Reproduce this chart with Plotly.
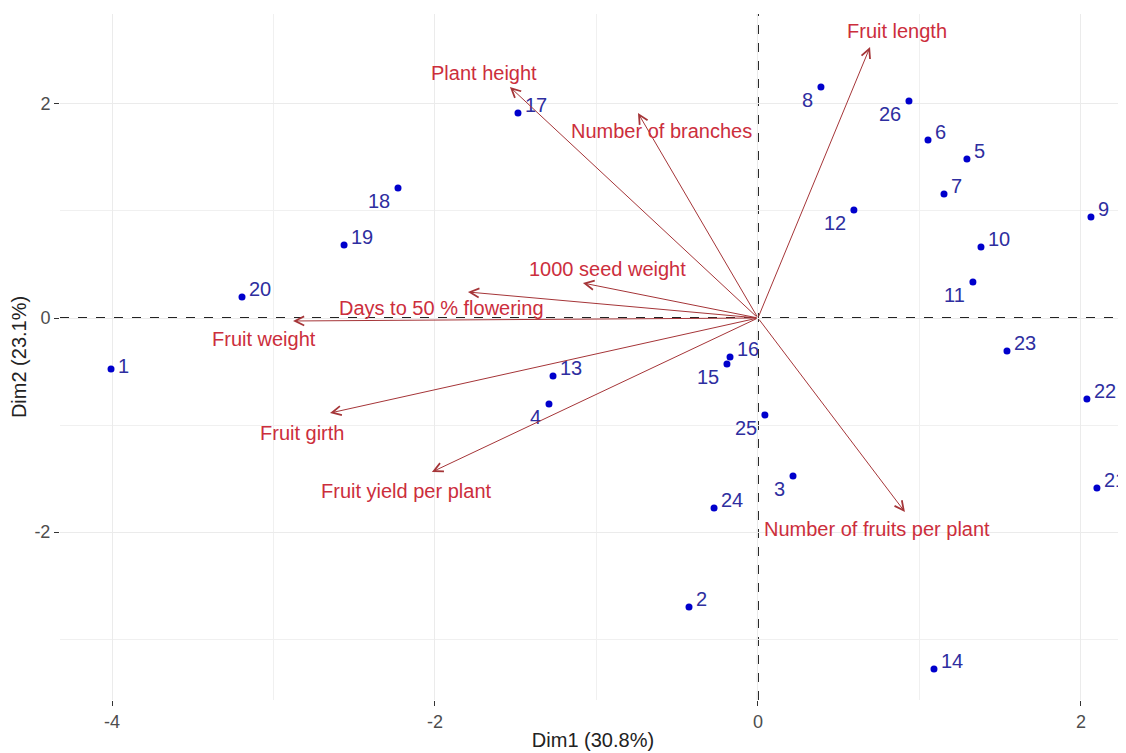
import plotly.graph_objects as go

# Individuals (PCA scores)
ind_labels = ["1", "2", "3", "4", "5", "6", "7", "8", "9", "10", "11", "12", "13",
              "14", "15", "16", "17", "18", "19", "20", "21", "22", "23", "24", "25", "26"]
ind_dim1 = [-4.006, -0.427, 0.217, -1.294, 1.294, 1.053, 1.152, 0.390, 2.062, 1.381, 1.331, 0.594, -1.269,
            1.090, -0.192, -0.173, -1.486, -2.229, -2.563, -3.195, 2.099, 2.037, 1.542, -0.272, 0.043, 0.935]
ind_dim2 = [-0.477, -2.700, -1.477, -0.804, 1.486, 1.664, 1.159, 2.159, 0.944, 0.664, 0.336, 1.009, -0.542,
            -3.280, -0.430, -0.364, 1.916, 1.215, 0.682, 0.196, -1.589, -0.757, -0.308, -1.776, -0.907, 2.028]

# Variables (loadings, scaled)
var_names = ["Fruit length", "Plant height", "Number of branches", "1000 seed weight",
             "Days to 50 % flowering", "Fruit weight", "Fruit girth", "Fruit yield per plant",
             "Number of fruits per plant"]
var_dim1 = [0.694, -1.536, -0.743, -1.084, -1.796, -2.879, -2.650, -2.019, 0.910]
var_dim2 = [2.533, 2.159, 1.916, 0.327, 0.243, -0.028, -0.888, -1.439, -1.813]

x_ticks = [-4, -2, 0, 2]
y_ticks = [-2, 0, 2]
x_title = "Dim1 (30.8%)"
y_title = "Dim2 (23.1%)"

# label placement (styling)
bl = {"8", "26", "12", "11", "18", "15", "25", "3", "4"}
mr = {"1"}

var_label_shift = {
    "Fruit length": (27, 16),
    "Plant height": (-26, 14),
    "Number of branches": (24, -18),
    "1000 seed weight": (25, 14),
    "Days to 50 % flowering": (-26, -16),
    "Fruit weight": (-29, -18),
    "Fruit girth": (-28, -20),
    "Fruit yield per plant": (-25, -19),
    "Number of fruits per plant": (-28, -17),
}

FONT = "Liberation Sans, Arial, sans-serif"
IND_TEXT = "#2E2EA0"
fig = go.Figure()

fig.add_trace(go.Scatter(
    x=ind_dim1, y=ind_dim2, mode="markers", text=ind_labels,
    marker=dict(color="#0000CC", size=7),
    hoverinfo="text", showlegend=False, cliponaxis=False,
))

annotations = []
for lab, px, py in zip(ind_labels, ind_dim1, ind_dim2):
    if lab in bl:
        a = dict(xanchor="right", yanchor="middle", xshift=-7, yshift=-13)
    elif lab in mr:
        a = dict(xanchor="left", yanchor="middle", xshift=6, yshift=3)
    else:
        a = dict(xanchor="left", yanchor="middle", xshift=6, yshift=8)
    annotations.append(dict(
        x=px, y=py, xref="x", yref="y", text=lab, showarrow=False,
        font=dict(color=IND_TEXT, size=20, family=FONT), borderpad=0, **a,
    ))

for name, vx, vy in zip(var_names, var_dim1, var_dim2):
    annotations.append(dict(
        x=vx, y=vy, ax=0, ay=0, xref="x", yref="y", axref="x", ayref="y",
        text="", showarrow=True, arrowhead=5, arrowsize=1.8, arrowwidth=1,
        arrowcolor="#A53538",
    ))
    dx, dy = var_label_shift[name]
    annotations.append(dict(
        x=vx, y=vy, xref="x", yref="y", text=name, showarrow=False,
        xshift=dx, yshift=dy, xanchor="center", yanchor="middle",
        font=dict(color="#CC2E3C", size=20, family=FONT),
    ))

fig.update_layout(
    width=1118, height=745,
    margin=dict(l=52, r=0, t=6, b=53),
    paper_bgcolor="white", plot_bgcolor="white",
    font=dict(family=FONT),
    annotations=annotations,
    xaxis=dict(
        range=[-4.322, 2.279], tickvals=x_ticks, ticktext=[str(v) for v in x_ticks],
        showgrid=True, gridcolor="#EBEBEB", gridwidth=1,
        minor=dict(dtick=1, showgrid=True, gridcolor="#F0F0F0", gridwidth=1),
        zeroline=False, showline=False, ticks="outside", ticklen=5, tickcolor="#333333",
        tickfont=dict(size=18, color="#4D4D4D"),
        title=dict(text=x_title, font=dict(size=20, color="#222222"), standoff=2),
    ),
    yaxis=dict(
        range=[-3.570, 2.841], tickvals=y_ticks, ticktext=[str(v) for v in y_ticks],
        showgrid=True, gridcolor="#EBEBEB", gridwidth=1,
        minor=dict(dtick=1, showgrid=True, gridcolor="#F0F0F0", gridwidth=1),
        zeroline=False, showline=False, ticks="outside", ticklen=5, tickcolor="#333333",
        tickfont=dict(size=18, color="#4D4D4D"),
        title=dict(text=y_title, font=dict(size=20, color="#222222"), standoff=8),
    ),
)

fig.add_hline(y=0, line=dict(color="#222222", width=2, dash="dash"), layer="below")
fig.add_vline(x=0, line=dict(color="#222222", width=2, dash="dash"), layer="below")

fig.write_html("out.html")
